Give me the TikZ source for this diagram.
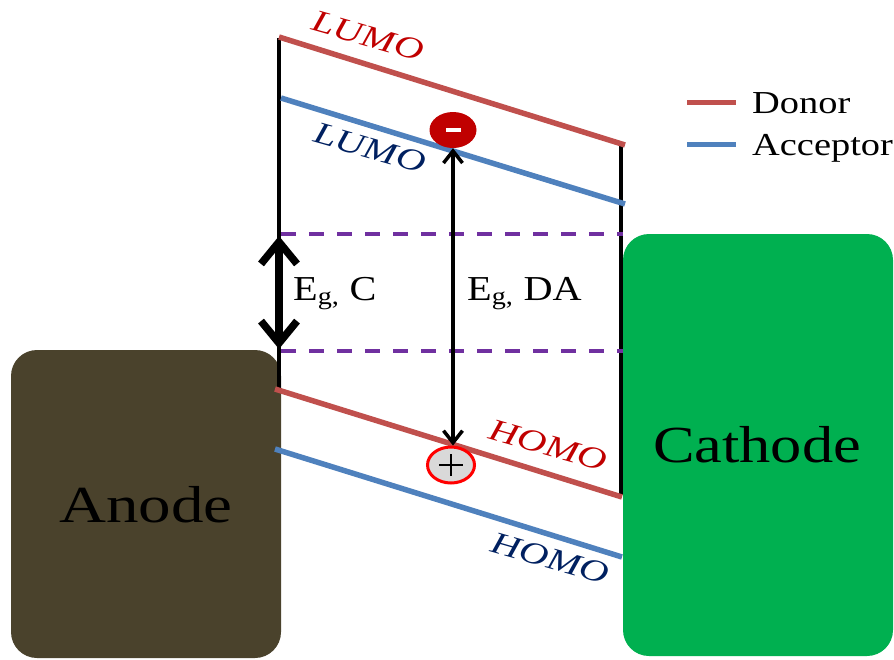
\documentclass[tikz,border=0pt]{standalone}
\usepackage{fontspec}
\setmainfont{Liberation Serif}
\usetikzlibrary{arrows.meta,shapes.geometric,calc}
\definecolor{donorline}{HTML}{C0504D}
\definecolor{accline}{HTML}{4F81BD}
\definecolor{donortxt}{HTML}{C00000}
\definecolor{acctxt}{HTML}{002060}
\definecolor{dashcol}{HTML}{7030A0}
\definecolor{anodecol}{HTML}{4A422C}
\definecolor{cathodecol}{HTML}{00B050}
\definecolor{holefill}{HTML}{D9D9D9}
\begin{document}
\begin{tikzpicture}[x=1pt,y=1pt,
  electrode/.style={rectangle,rounded corners=26pt,inner sep=0pt,minimum width=270pt},
  levelD/.style={draw=donorline,line width=5.5pt},
  levelA/.style={draw=accline,line width=5.5pt},
  wall/.style={draw=black,line width=4.5pt},
  gapline/.style={draw=dashcol,line width=3.5pt,dash pattern=on 15pt off 13pt},
  lvltxt/.style={inner sep=0pt,font=\fontsize{31}{31}\selectfont\itshape,rotate=-16},
  bigtxt/.style={inner sep=0pt,font=\fontsize{52}{52}\selectfont},
  egtxt/.style={inner sep=0pt,anchor=base west,font=\fontsize{35}{35}\selectfont},
  legtxt/.style={inner sep=0pt,anchor=base west,font=\fontsize{32}{32}\selectfont},
  carrier/.style={ellipse,inner sep=0pt,minimum width=47pt,minimum height=36pt}]
\useasboundingbox (0,0) rectangle (894,-659);
% electrodes
\node[electrode,fill=anodecol,minimum height=308pt] (anode) at (146,-504) {};
\node[bigtxt] (anodetxt) at (146,-505) {\scalebox{1.25}[1]{Anode}};
\node[electrode,fill=cathodecol,minimum height=422pt] (cathode) at (758,-445) {};
\node[bigtxt] (cathodetxt) at (757,-445) {\scalebox{1.2}[1]{Cathode}};
% coordinates of levels
\coordinate (dl1) at (279,-37);  \coordinate (dl2) at (625,-145);
\coordinate (al1) at (281,-98);  \coordinate (al2) at (625,-204);
\coordinate (dh1) at (275,-389); \coordinate (dh2) at (622,-497);
\coordinate (ah1) at (275,-449); \coordinate (ah2) at (622,-557);
\coordinate (wl1) at (279,-38);  \coordinate (wl2) at (279,-389);
\coordinate (wr1) at (621,-145); \coordinate (wr2) at (621,-495);
\coordinate (g1a) at (281,-234); \coordinate (g1b) at (623,-234);
\coordinate (g2a) at (281,-351); \coordinate (g2b) at (623,-351);
% walls
\draw[wall] (wl1) -- (wl2);
\draw[wall] (wr1) -- (wr2);
% levels
\draw[levelD] (dl1) -- (dl2);
\draw[levelA] (al1) -- (al2);
\draw[levelD] (dh1) -- (dh2);
\draw[levelA] (ah1) -- (ah2);
% dashed gap lines
\draw[gapline] (g1a) -- (g1b);
\draw[gapline] (g2a) -- (g2b);
% level labels
\node[lvltxt,text=donortxt] (lumoD) at (368,-36) {\scalebox{1.3}[1]{LUMO}};
\node[lvltxt,text=acctxt] (lumoA) at (370,-148) {\scalebox{1.3}[1]{LUMO}};
\node[lvltxt,text=donortxt] (homoD) at (548,-445) {\scalebox{1.3}[1]{HOMO}};
\node[lvltxt,text=acctxt] (homoA) at (550,-558) {\scalebox{1.3}[1]{HOMO}};
% carriers
\node[carrier,fill=donortxt] (elec) at (453,-130) {};
\fill[white] ($(elec.center)+(-7.5,-2)$) rectangle ++(15,4);
\node[carrier,fill=holefill,draw=red,line width=3pt] (hole) at (451,-465) {};
\draw[line width=2.8pt] ($(hole.center)+(-12,0)$) -- ++(24,0);
\draw[line width=2.8pt] ($(hole.center)+(0,-11)$) -- ++(0,22);
% arrows
\draw[line width=3.5pt,{Straight Barb[length=12pt,width=19pt]}-{Straight Barb[length=12pt,width=19pt]}] (elec.south) -- (elec.south |- hole.north);
\draw[line width=7.5pt,{Straight Barb[length=22pt,width=36pt]}-{Straight Barb[length=22pt,width=36pt]}] (279,-236) coordinate (egc1) -- (279,-349) coordinate (egc2);
% gap labels
\node[egtxt] (egC) at (293,-300) {\scalebox{1.15}[1]{E\textsubscript{g,} C}};
\node[egtxt] (egDA) at (467,-300) {\scalebox{1.15}[1]{E\textsubscript{g,} DA}};
% legend
\coordinate (lgd1) at (687,-102); \coordinate (lgd2) at (736,-102);
\coordinate (lga1) at (687,-144); \coordinate (lga2) at (736,-144);
\draw[draw=donorline,line width=5pt] (lgd1) -- (lgd2);
\draw[draw=accline,line width=5pt] (lga1) -- (lga2);
\node[legtxt] (legD) at (752,-113) {\scalebox{1.2}[1]{Donor}};
\node[legtxt] (legA) at (752,-155) {\scalebox{1.2}[1]{Acceptor}};
\end{tikzpicture}
\end{document}
